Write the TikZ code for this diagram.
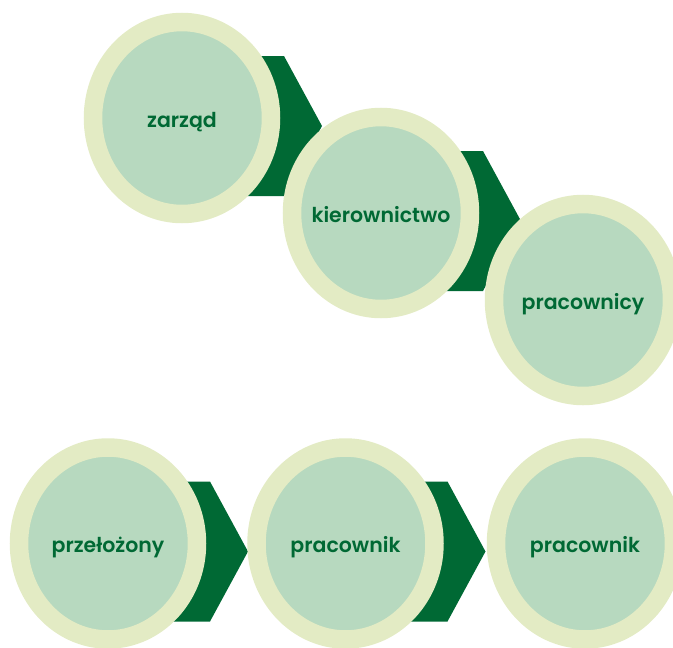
\documentclass[tikz,border=0pt]{standalone}
\usepackage{fontspec}
\setmainfont{Poppins}[BoldFont={Poppins SemiBold}]
\usepackage{tikz}
\usetikzlibrary{shapes.geometric,calc,backgrounds}
\definecolor{ringlight}{RGB}{227,235,196}
\definecolor{discgreen}{RGB}{183,217,191}
\definecolor{darkgreen}{RGB}{0,105,52}
\begin{document}
\begin{tikzpicture}[x=1pt,y=-1pt,
  stage/.style={ellipse,draw=ringlight,fill=discgreen,line width=18.5pt,
                minimum width=178pt,minimum height=192pt,
                inner xsep=-25pt,inner ysep=0pt,
                text height=21pt,text depth=3pt,
                font=\fontsize{20.5}{24}\selectfont\bfseries,text=darkgreen},
  chev/.style={fill=darkgreen}]
\clip (0,0) rectangle (673,648);
\node[stage] (zar)   at (182,118)   {zarząd};
\node[stage] (kier)  at (381,213)   {kierownictwo};
\node[stage] (pracy) at (583,300)   {pracownicy};
\node[stage] (prz)   at (108,543.5) {przełożony};
\node[stage] (prk)   at (345.5,543.5) {pracownik};
\node[stage] (prkb)  at (585,543.5) {pracownik};
\begin{scope}[on background layer]
\foreach \n in {zar,kier,prz,prk}
  \fill[chev] ($(\n)+(50,-62)$) -- ++(52,0) -- ++(38,70)
              -- ++(-38,70) -- ++(-52,0) -- cycle;
\end{scope}
\end{tikzpicture}
\end{document}
